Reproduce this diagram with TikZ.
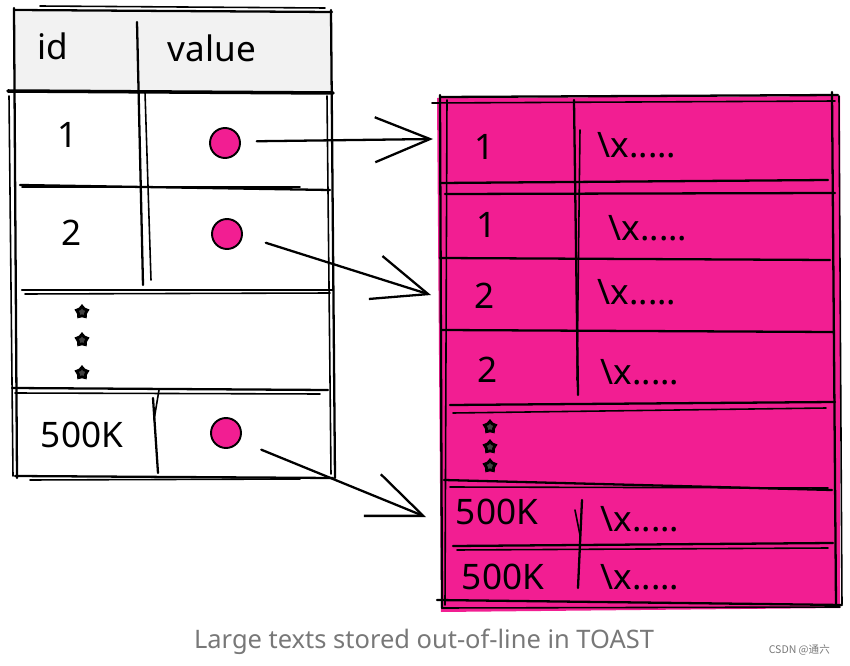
\documentclass[tikz,border=0pt]{standalone}
\usepackage{fontspec}
\setmainfont{Noto Sans}
\newfontfamily\cjkfont{Noto Sans CJK SC}
\usetikzlibrary{arrows.meta,positioning,shapes.geometric}
\definecolor{rosaTOAST}{RGB}{242,30,146}
\definecolor{cinzaCab}{RGB}{242,242,242}
\definecolor{cinzaLegenda}{RGB}{120,120,120}
\tikzset{
  traco/.style={line width=1.3pt, line cap=round, black},
  traco fino/.style={line width=0.9pt, line cap=round, black},
  celula/.style={font=\fontsize{20}{24}\selectfont, inner sep=0pt},
  ponteiro/.style={circle, draw=black, line width=1.1pt, fill=rosaTOAST,
                   minimum size=0.6cm, inner sep=0pt},
  pontinho/.style={star, star points=5, draw=black, line width=1.6pt, fill=black!75,
                   minimum size=0.23cm, inner sep=0pt},
  seta/.style={traco, -{Straight Barb[length=11mm, width=9mm, line width=1.3pt]}},
}

\begin{document}
\begin{tikzpicture}[x=0.02cm, y=-0.02cm]
  \useasboundingbox (0,0) rectangle (850,666);

  % tabela principal
  \fill[cinzaCab] (14,12) rectangle (331,91);
  \draw[traco] (15,10) -- (332,12);
  \draw[traco fino] (40,6) -- (325,8);
  \draw[traco] (14,8) -- (17,478);
  \draw[traco fino] (9,96) -- (13,476);
  \draw[traco] (331,10) -- (335,478);
  \draw[traco fino] (327,96) -- (331,474);
  \draw[line width=2pt, line cap=round] (8,91) -- (333,93);
  \draw[traco] (137,22) -- (143,285);
  \draw[traco fino] (145,92) -- (151,280);
  \draw[traco] (20,185) -- (330,190);
  \draw[traco fino] (22,187) -- (300,187);
  \draw[traco] (22,290) -- (333,290);
  \draw[traco fino] (25,294) -- (330,293);
  \draw[traco] (12,388) -- (328,390);
  \draw[traco fino] (15,393) -- (320,394);
  \draw[traco] (15,476) -- (333,478);
  \draw[traco fino] (30,480) -- (300,479);
  \draw[traco] (153,398) -- (158,473);
  \draw[traco fino] (159,390) -- (154,420);

  \node[celula] (hid) at (53,46) {id};
  \node[celula] (hval) at (212,48) {value};
  \node[celula] (id1) at (68,135) {1};
  \node[celula] (id2) at (72,233) {2};
  \node[celula] (id3) at (82,435) {500K};
  \node[ponteiro] (p1) at (225,143) {};
  \node[ponteiro] (p2) at (227,234) {};
  \node[ponteiro] (p3) at (226,433) {};
  \foreach \y [count=\i] in {312,340,373}
    \node[pontinho] (esq\i) at (82,\y) {};

  % tabela TOAST
  \fill[rosaTOAST] (437,98) -- (840,96) -- (840,608) -- (441,612) -- cycle;
  \draw[traco] (440,97) -- (838,95);
  \draw[traco fino] (432,103) -- (835,101);
  \draw[traco] (440,95) -- (442,608);
  \draw[traco fino] (447,100) -- (445,605);
  \draw[traco] (832,92) -- (836,605);
  \draw[traco fino] (839,96) -- (842,604);
  \draw[traco] (437,600) -- (842,605);
  \draw[traco fino] (442,608) -- (840,607);
  \draw[traco] (440,183) -- (828,180);
  \draw[traco] (445,194) -- (835,193);
  \draw[traco] (440,258) -- (830,260);
  \draw[traco] (442,330) -- (833,332);
  \draw[traco] (450,405) -- (835,402);
  \draw[traco fino] (453,413) -- (826,408);
  \draw[traco] (444,480) -- (832,490);
  \draw[traco fino] (450,487) -- (828,488);
  \draw[traco] (453,546) -- (833,543);
  \draw[traco fino] (457,550) -- (828,548);
  \draw[traco] (574,100) -- (578,395);
  \draw[traco fino] (580,130) -- (577,380);
  \draw[traco] (582,500) -- (578,588);
  \draw[traco fino] (575,510) -- (580,535);

  \node[celula] (t1) at (485,147) {1};
  \node[celula] (v1) at (637,145) {\textbackslash x.....};
  \node[celula] (t2) at (487,225) {1};
  \node[celula] (v2) at (648,228) {\textbackslash x.....};
  \node[celula] (t3) at (485,296) {2};
  \node[celula] (v3) at (637,292) {\textbackslash x.....};
  \node[celula] (t4) at (488,370) {2};
  \node[celula] (v4) at (640,372) {\textbackslash x.....};
  \node[celula] (t5) at (497,512) {500K};
  \node[celula] (v5) at (640,519) {\textbackslash x.....};
  \node[celula] (t6) at (503,577) {500K};
  \node[celula] (v6) at (640,577) {\textbackslash x.....};
  \foreach \y [count=\i] in {427,447,466}
    \node[pontinho] (dir\i) at (490,\y) {};

  % ponteiros
  \coordinate (alvo1) at (433,139);
  \coordinate (alvo2) at (431,295);
  \coordinate (alvo3) at (426,517);
  \draw[seta] ([xshift=9pt,yshift=1pt]p1.east) -- (alvo1);
  \draw[seta] ([xshift=13pt,yshift=-5pt]p2.east) -- (alvo2);
  \draw[seta] ([xshift=11pt,yshift=-9.5pt]p3.east) -- (alvo3);

  \node[text=cinzaLegenda, font=\fontsize{14.5}{17}\selectfont] (legenda) at (424,642)
    {Large texts stored out-of-line in TOAST};
  \node[text=cinzaLegenda, font=\cjkfont\fontsize{6}{7}\selectfont, anchor=east] (marca) at (836,650)
    {CSDN @通六};
\end{tikzpicture}
\end{document}
